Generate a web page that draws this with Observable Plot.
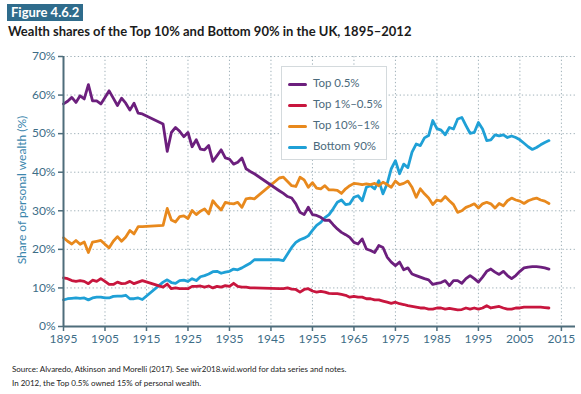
<!DOCTYPE html>
<html>
<head>
<meta charset="utf-8">
<script src="https://cdn.jsdelivr.net/npm/d3@7"></script>
<script src="https://cdn.jsdelivr.net/npm/@observablehq/plot@0.6"></script>
<style>
  html, body { margin: 0; padding: 0; background: #fff; }
  body { width: 581px; height: 394px; position: relative; overflow: hidden; font-family: Lato, "Open Sans", sans-serif; }
  #fig { position: absolute; left: 7px; top: 4px; height: 17px; line-height: 17px; padding: 0 4px; background: #2f6c8c; color: #fff; font-weight: bold; font-size: 13px; }
  #title { position: absolute; left: 8px; top: 23px; font-weight: bold; font-size: 13px; color: #1b1b1b; white-space: nowrap; }
  #chart { position: absolute; left: 0; top: 40px; }
  #ylabel { position: absolute; left: 21px; top: 190px; transform: translate(-50%, -50%) rotate(-90deg); font-size: 12px; color: #3b86ad; white-space: nowrap; }
  #legend { position: absolute; left: 281px; top: 66px; width: 106px; height: 94px; border: 1px solid #d4dadd; background: #fff; box-sizing: border-box; }
  .item { position: absolute; left: 6px; height: 14px; font-size: 11.5px; color: #4b6a7c; white-space: nowrap; }
  .item span.sw { position: absolute; left: 0; top: 6px; width: 19px; height: 3px; border-radius: 2px; }
  .item span.tx { position: absolute; left: 25px; top: -1px; }
  .cap { position: absolute; left: 12px; font-size: 8px; color: #222; white-space: nowrap; }
</style>
</head>
<body>
<div id="fig">Figure 4.6.2</div>
<div id="title">Wealth shares of the Top 10% and Bottom 90% in the UK, 1895–2012</div>
<div id="chart"></div>
<div id="ylabel">Share of personal wealth (%)</div>
<div id="legend"></div>
<div class="cap" style="top:364px">Source: Alvaredo, Atkinson and Morelli (2017). See wir2018.wid.world for data series and notes.</div>
<div class="cap" style="top:378px">In 2012, the Top 0.5% owned 15% of personal wealth.</div>
<script>
const years = [
  1895,1896,1897,1898,1899,1900,1901,1902,1903,1904,1905,1906,1907,1908,1909,1910,1911,1912,1913,1914,
  1919,1920,1921,1922,1923,1924,1925,1926,1927,1928,1929,1930,1931,1932,1933,1934,1935,1936,1937,1938,1939,1940,1941,
  1947,1948,1949,1950,1951,1952,1953,1954,1955,1956,1957,1958,1959,1960,1961,1962,1963,1964,1965,1966,1967,1968,1969,
  1970,1971,1972,1973,1974,1975,1976,1977,1978,1979,1980,1981,1982,1983,1984,1985,1986,1987,1988,1989,1990,1991,1992,
  1993,1994,1995,1996,1997,1998,1999,2000,2001,2002,2003,2004,2005,2006,2007,2008,2009,2010,2011,2012
];
const top05 = [
  57.7,58.4,59.4,58.1,59.8,59.0,62.7,58.5,58.5,57.7,59.4,61.1,59.2,57.3,59.2,57.9,56.1,57.9,55.3,55.1,
  52.5,45.4,50.3,51.6,50.6,49.2,50.3,46.6,48.4,46.0,45.8,46.9,42.8,44.3,45.8,43.7,43.4,42.1,42.6,43.7,40.9,40.2,39.6,
  35.2,34.5,33.7,33.3,31.8,29.6,29.0,30.9,29.0,28.8,28.3,27.5,27.6,26.4,25.3,24.4,23.8,23.1,21.8,21.4,22.7,20.1,19.7,
  19.2,21.0,20.5,18.0,16.7,15.8,16.7,14.7,15.2,13.6,13.2,12.8,12.4,12.1,10.9,11.2,11.4,11.9,10.6,11.9,11.9,11.2,12.4,
  13.2,12.4,11.5,12.8,14.3,14.9,14.1,13.5,14.3,13.2,12.4,13.2,14.3,15.2,15.4,15.5,15.5,15.4,15.2,14.9
];
const top1to05 = [
  12.6,12.4,11.9,11.7,11.9,11.7,11.1,12.0,11.7,12.4,11.7,10.9,10.9,11.5,11.1,11.2,11.7,11.1,11.5,11.9,
  10.2,11.0,9.8,10.0,9.8,9.8,9.8,10.4,10.4,10.5,10.2,10.5,10.0,10.4,10.2,10.6,10.4,11.2,10.4,10.2,10.2,10.0,10.0,
  9.8,9.8,10.0,9.7,9.6,8.9,9.6,9.8,9.2,8.9,9.1,8.9,8.6,8.5,8.5,8.3,8.1,7.6,7.8,7.6,7.6,7.2,7.2,
  6.9,6.9,6.6,6.3,6.0,6.3,5.9,5.7,5.4,5.2,5.0,4.8,4.8,4.5,4.5,4.8,4.8,4.5,4.7,4.5,4.3,4.4,4.8,
  4.5,4.8,4.5,4.8,5.4,4.8,5.0,5.2,4.8,4.5,4.5,4.8,4.8,5.0,5.0,5.0,5.0,5.0,4.9,4.8
];
const top10to1 = [
  23.0,22.1,21.4,22.3,21.3,21.9,19.2,21.9,22.1,22.3,21.3,20.4,22.1,23.3,22.1,23.2,24.9,24.0,25.9,25.9,
  26.2,30.6,27.6,27.1,28.5,28.7,28.0,30.1,29.0,29.9,30.5,29.2,32.6,31.3,30.2,32.2,31.9,31.8,32.2,30.9,33.1,33.3,33.1,
  38.5,38.7,37.6,36.5,36.3,38.7,38.0,36.1,37.3,35.9,35.7,36.5,35.4,35.4,35.3,34.5,35.7,36.5,37.1,37.0,36.8,37.0,36.8,
  37.1,36.5,37.4,36.8,36.1,37.7,36.8,37.1,37.7,36.1,33.5,35.7,34.4,33.3,31.6,32.8,32.5,33.7,32.6,31.6,29.6,30.0,30.9,
  31.3,31.8,30.7,31.8,32.2,31.8,30.7,31.9,31.3,32.6,33.3,32.8,32.5,31.9,32.6,33.0,33.3,32.8,32.5,31.9
];
const bottom90 = [
  6.9,7.2,7.3,7.4,7.3,7.4,6.9,7.4,7.6,7.6,7.4,7.4,7.8,7.9,7.9,8.1,7.2,7.2,7.4,7.0,
  11.5,12.1,11.4,11.2,11.9,12.0,11.7,12.4,11.9,12.9,13.2,13.6,14.2,14.3,13.8,14.1,14.3,14.9,14.7,15.2,15.8,16.4,17.3,
  17.3,17.1,18.8,20.5,21.8,22.5,22.9,23.5,24.9,26.2,27.0,28.2,29.0,30.5,32.2,32.8,31.6,31.8,33.5,33.9,32.6,36.1,36.5,
  35.7,37.8,34.4,37.0,40.9,43.0,39.6,42.1,41.2,45.2,47.3,46.9,48.9,49.5,53.4,51.3,50.9,49.7,51.6,51.2,53.8,54.2,52.1,
  50.1,50.3,52.9,51.2,48.2,48.4,49.7,49.4,49.7,49.0,49.4,49.0,48.4,47.5,46.6,45.9,46.4,47.1,47.7,48.2
];
const seriesNames = ["Top 0.5%", "Top 1%–0.5%", "Top 10%–1%", "Bottom 90%"];
const seriesColors = ["#6c1f7d", "#c8163e", "#e8891d", "#1fa0d6"];
const xTicks = [1895,1905,1915,1925,1935,1945,1955,1965,1975,1985,1995,2005,2015];
const yTicks = [0,10,20,30,40,50,60,70];

const valueSets = [top05, top1to05, top10to1, bottom90];
const drawOrder = [3, 2, 0, 1];
const data = drawOrder.flatMap(k => years.map((yr, i) => ({year: yr, value: valueSets[k][i], series: seriesNames[k]})));

const axisColor = "#4e6d7b";
const labelColor = "#3d6d87";
const gridStyle = {stroke: "#9fb0b8", strokeOpacity: 1, strokeDasharray: "1.3,2.4", strokeWidth: 1};

const chart = Plot.plot({
  width: 581,
  height: 315,
  marginTop: 16,
  marginBottom: 29,
  marginLeft: 63,
  marginRight: 6,
  style: {fontFamily: "Lato, sans-serif", fontSize: "12px", background: "transparent", overflow: "visible"},
  x: {domain: [1895, 2018.4], label: null},
  y: {domain: [0, 70], label: null},
  color: {domain: seriesNames, range: seriesColors},
  marks: [
    Plot.gridY(yTicks.filter(d => d > 0), gridStyle),
    Plot.gridX(xTicks.filter(d => d > 1895), gridStyle),
    Plot.line(data, {x: "year", y: "value", z: "series", stroke: "series", strokeWidth: 2.8, strokeLinejoin: "round", strokeLinecap: "round"}),
    Plot.ruleY([0], {stroke: axisColor, strokeWidth: 2}),
    Plot.ruleX([1895], {stroke: axisColor, strokeWidth: 2}),
    Plot.axisX(xTicks, {tickSize: 5, tickPadding: 3, tickFormat: d => String(d), stroke: axisColor, fill: labelColor, strokeWidth: 1.5, fontSize: 12, label: null}),
    Plot.axisY(yTicks, {tickSize: 5, tickPadding: 3, tickFormat: d => d + "%", stroke: axisColor, fill: labelColor, strokeWidth: 1.5, fontSize: 12, label: null})
  ]
});
document.getElementById("chart").appendChild(chart);

const legend = document.getElementById("legend");
const legendTops = [10, 31, 52, 73];
seriesNames.forEach((name, i) => {
  const item = document.createElement("div");
  item.className = "item";
  item.style.top = legendTops[i] + "px";
  item.innerHTML = `<span class="sw" style="background:${seriesColors[i]}"></span><span class="tx">${name}</span>`;
  legend.appendChild(item);
});
</script>
</body>
</html>
